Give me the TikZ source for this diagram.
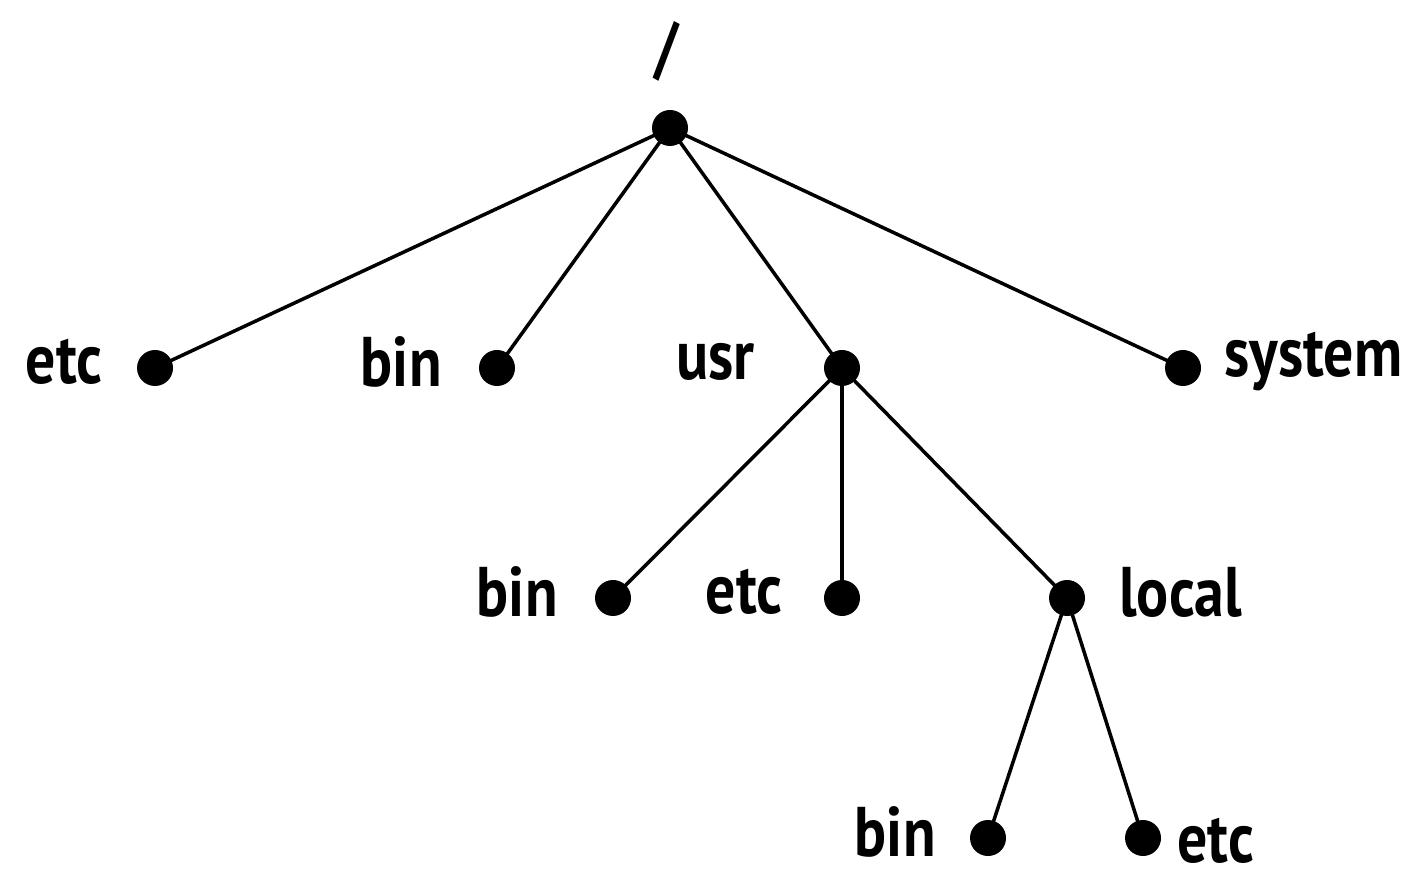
\documentclass[tikz,border=0pt]{standalone}
\usepackage{fontspec}
\setmainfont[FakeStretch=0.85]{PT Sans}
\usetikzlibrary{positioning}
\tikzset{
  dot/.style={circle,fill=black,inner sep=0pt,minimum size=0.36cm},
  lbl/.style={font=\fontsize{20}{20}\selectfont\bfseries,inner sep=0pt,yshift=0.06cm},
  edge/.style={line width=1pt}
}
\begin{document}
\begin{tikzpicture}
\useasboundingbox (0,0) rectangle (14.07,-8.70);
% dots
\node[dot] (root) at (6.70,-1.28) {};
\node[dot] (etc) at (1.55,-3.68) {};
\node[dot] (bin) at (4.97,-3.68) {};
\node[dot] (usr) at (8.42,-3.68) {};
\node[dot] (system) at (11.83,-3.68) {};
\node[dot] (usrbin) at (6.13,-5.98) {};
\node[dot] (usretc) at (8.42,-5.98) {};
\node[dot] (local) at (10.67,-5.98) {};
\node[dot] (localbin) at (9.88,-8.38) {};
\node[dot] (localetc) at (11.43,-8.38) {};
% labels
\node[lbl] (roottxt) at (6.67,-0.57) {/};
\node[lbl,left=0.33cm of etc] (etctxt) {etc};
\node[lbl,left=0.36cm of bin] (bintxt) {bin};
\node[lbl,left=0.68cm of usr] (usrtxt) {usr};
\node[lbl,right=0.22cm of system] (systemtxt) {system};
\node[lbl,left=0.36cm of usrbin] (usrbintxt) {bin};
\node[lbl,left=0.40cm of usretc] (usretctxt) {etc};
\node[lbl,right=0.33cm of local] (localtxt) {local};
\node[lbl,left=0.33cm of localbin] (localbintxt) {bin};
\node[lbl,right=0.15cm of localetc,yshift=-0.09cm] (localetctxt) {etc};
% edges
\draw[edge] (root.center) -- (etc.center);
\draw[edge] (root.center) -- (bin.center);
\draw[edge] (root.center) -- (usr.center);
\draw[edge] (root.center) -- (system.center);
\draw[edge] (usr.center) -- (usrbin.center);
\draw[edge] (usr.center) -- (usretc.center);
\draw[edge] (usr.center) -- (local.center);
\draw[edge] (local.center) -- (localbin.center);
\draw[edge] (local.center) -- (localetc.center);
\end{tikzpicture}
\end{document}
